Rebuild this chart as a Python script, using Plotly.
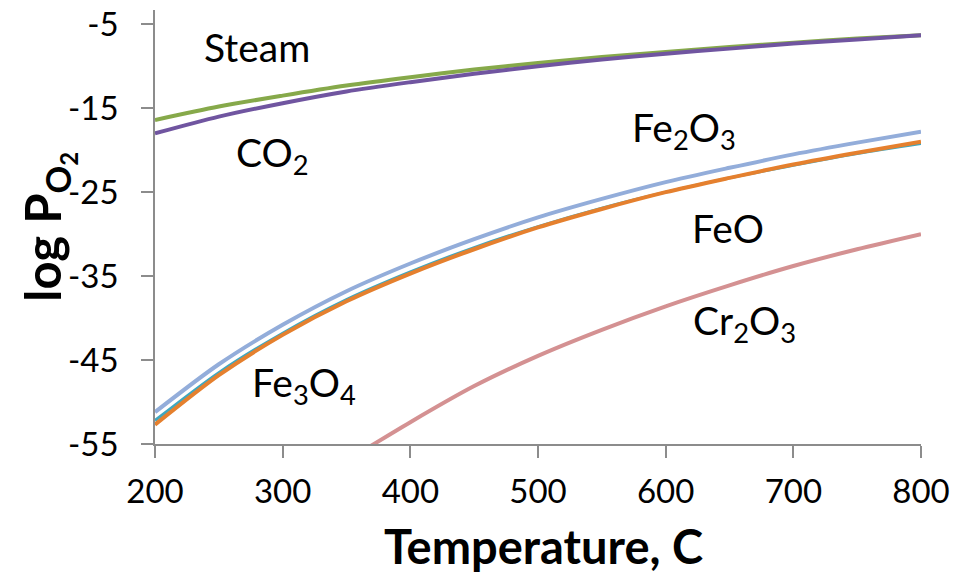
import plotly.graph_objects as go

# Temperature grid (deg C)
temp = [200, 250, 300, 350, 400, 450, 500, 550, 600, 650, 700, 750, 800]

# log pO2 of gas atmospheres
steam = [-16.4, -14.8, -13.5, -12.3, -11.3, -10.4, -9.6, -8.9, -8.3, -7.7, -7.2, -6.7, -6.3]
co2 = [-18.0, -16.0, -14.4, -13.0, -11.9, -10.9, -10.0, -9.2, -8.5, -7.9, -7.3, -6.8, -6.3]

# log pO2 of oxide equilibria
fe2o3 = [-51.2, -45.5, -40.8, -36.8, -33.5, -30.6, -28.0, -25.8, -23.8, -22.1, -20.5, -19.1, -17.8]
feo = [-52.2, -46.5, -41.8, -37.8, -34.5, -31.6, -29.1, -26.9, -25.0, -23.3, -21.8, -20.4, -19.2]
fe3o4 = [-52.7, -46.8, -42.0, -38.0, -34.7, -31.8, -29.2, -27.0, -25.0, -23.3, -21.7, -20.3, -19.0]

cr_temp = [350, 400, 450, 500, 550, 600, 650, 700, 750, 800]
cr2o3 = [-57.0, -52.4, -48.1, -44.5, -41.4, -38.6, -36.1, -33.8, -31.8, -30.0]

x_ticks = [200, 300, 400, 500, 600, 700, 800]
y_ticks = [-5, -15, -25, -35, -45, -55]

FONT = "Lato"

fig = go.Figure()

def add_line(x, y, color, width):
    fig.add_trace(go.Scatter(x=x, y=y, mode="lines",
                             line=dict(color=color, width=width, shape="spline", smoothing=0.8),
                             hoverinfo="skip", showlegend=False))

add_line(temp, steam, "#86A94A", 4)
add_line(temp, co2, "#7055A0", 4)
add_line(temp, feo, "#3FA7BF", 3)
add_line(temp, fe3o4, "#E5802E", 4)
add_line(temp, fe2o3, "#93ADDA", 4)
add_line(cr_temp, cr2o3, "#D49192", 4)

labels = [
    (280, -7.7, "Steam"),
    (292, -20.6, "CO<sub>2</sub>"),
    (614, -17.6, "Fe<sub>2</sub>O<sub>3</sub>"),
    (649, -29.3, "FeO"),
    (662, -40.6, "Cr<sub>2</sub>O<sub>3</sub>"),
    (317, -48.0, "Fe<sub>3</sub>O<sub>4</sub>"),
]
for lx, ly, txt in labels:
    fig.add_annotation(x=lx, y=ly, text=txt, showarrow=False,
                       font=dict(family=FONT, size=39, color="#000000"))

fig.add_annotation(xref="paper", yref="paper", x=0.507, y=-0.235, text="<b>Temperature, C</b>",
                   showarrow=False, yanchor="middle",
                   font=dict(family=FONT, size=47, color="#000000"))
fig.add_annotation(xref="paper", yref="paper", x=-0.14, y=0.5,
                   text="<b>log P<sub>O<sub>2</sub></sub></b>", textangle=-90,
                   showarrow=False, xanchor="center",
                   font=dict(family=FONT, size=49, color="#000000"))

axis_common = dict(showgrid=False, zeroline=False, showline=True, linecolor="#8C8C8C",
                   linewidth=1.5, ticks="outside", ticklen=12, tickcolor="#8C8C8C",
                   tickwidth=1.5, automargin=False)

fig.update_xaxes(range=[200, 800], tickvals=x_ticks, ticktext=[str(v) for v in x_ticks],
                 ticklabelstandoff=6,
                 tickfont=dict(family=FONT, size=33, color="#000000"), **axis_common)
fig.update_yaxes(range=[-55, -3.3], tickvals=y_ticks, ticktext=[str(v) for v in y_ticks],
                 ticklabelstandoff=16,
                 tickfont=dict(family=FONT, size=33, color="#000000"), **axis_common)

fig.update_layout(width=965, height=576, margin=dict(l=155, r=44, t=10, b=132),
                  plot_bgcolor="white", paper_bgcolor="white")

fig.write_html("out.html")
